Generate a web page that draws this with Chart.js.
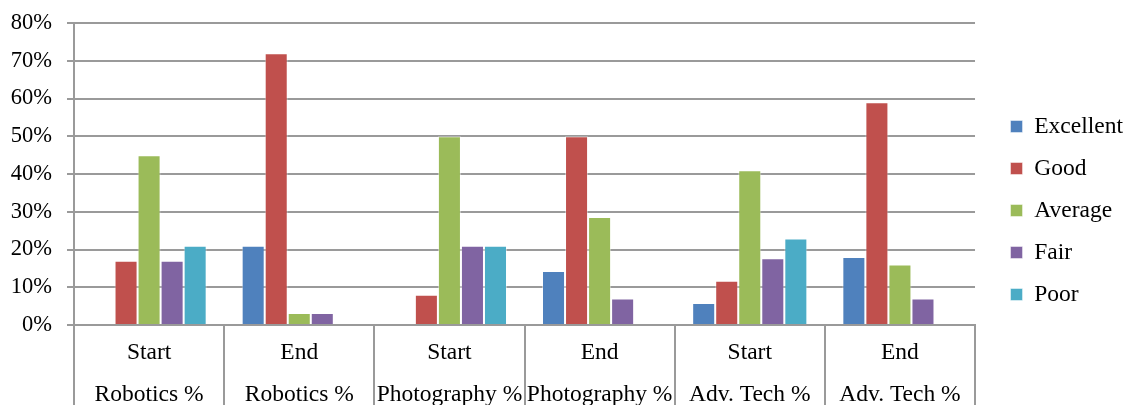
<!DOCTYPE html>
<html>
<head>
<meta charset="utf-8">
<script src="https://cdn.jsdelivr.net/npm/chart.js@4.4.1/dist/chart.umd.min.js"></script>
<style>
  html, body { margin: 0; padding: 0; background: #fff; overflow: hidden; }
  #wrap { position: relative; width: 1128px; height: 428px; }
</style>
</head>
<body>
<div id="wrap"><canvas id="chart"></canvas></div>
<script>
// Course ratings (%) at the start and end of each course
const categories = [
  ['Start', 'Robotics %'],
  ['End', 'Robotics %'],
  ['Start', 'Photography %'],
  ['End', 'Photography %'],
  ['Start', 'Adv. Tech %'],
  ['End', 'Adv. Tech %']
];
const excellent = [0, 21, 0, 14.3, 5.8, 18];
const good      = [17, 72, 8, 50, 11.7, 59];
const average   = [45, 3.2, 50, 28.6, 41, 16];
const fair      = [17, 3.2, 21, 7, 17.7, 7];
const poor      = [21, 0, 21, 0, 22.9, 0];

const yTicks = [0, 10, 20, 30, 40, 50, 60, 70, 80];

const seriesNames  = ['Excellent', 'Good', 'Average', 'Fair', 'Poor'];
const seriesColors = ['#4F81BD', '#C0504D', '#9BBB59', '#8064A2', '#4BACC6'];
const seriesData   = [excellent, good, average, fair, poor];

const serif = "'Liberation Serif', 'Times New Roman', serif";
const gridGrey = '#9a9a9a';

// Nudge the legend block away from the plot and up a little
const legendNudge = {
  id: 'legendNudge',
  afterLayout(chart) {
    const lg = chart.legend;
    if (!lg) return;
    lg.left += 17; lg.right += 17;
    lg.top -= 15; lg.bottom -= 15;
  }
};

new Chart(document.getElementById('chart'), {
  type: 'bar',
  data: {
    labels: categories,
    datasets: seriesNames.map((name, i) => ({
      label: name,
      data: seriesData[i],
      backgroundColor: seriesColors[i],
      borderColor: 'rgba(255,255,255,0.45)',
      borderWidth: 1,
      categoryPercentage: 0.767,
      barPercentage: 1.0
    }))
  },
  plugins: [legendNudge],
  options: {
    responsive: true,
    maintainAspectRatio: false,
    animation: false,
    devicePixelRatio: 1,
    layout: { padding: { top: 23, right: 12, left: 0, bottom: 0 } },
    plugins: {
      tooltip: { enabled: false },
      legend: {
        position: 'right',
        labels: {
          color: '#000',
          font: { family: serif, size: 23.5 },
          boxWidth: 12,
          boxHeight: 12,
          padding: 18.5
        }
      }
    },
    scales: {
      x: {
        offset: true,
        grid: {
          display: true,
          offset: true,
          drawOnChartArea: false,
          drawTicks: true,
          tickLength: 100,
          color: gridGrey,
          lineWidth: 2
        },
        border: { display: true, color: gridGrey, width: 2 },
        ticks: {
          color: '#000',
          font: { family: serif, size: 23.5, lineHeight: 42 / 23.5 },
          padding: -93,
          maxRotation: 0,
          autoSkip: false
        },
        afterFit: s => { s.height = 103; }
      },
      y: {
        min: 0,
        max: 80,
        afterBuildTicks: s => { s.ticks = yTicks.map(v => ({ value: v })); },
        grid: {
          color: gridGrey,
          lineWidth: 2,
          tickLength: 7
        },
        border: { display: true, color: gridGrey, width: 2 },
        ticks: {
          color: '#000',
          font: { family: serif, size: 22.5, lineHeight: 0.6 },
          padding: 15,
          callback: v => v + '%'
        },
        afterFit: s => { s.width = 74; }
      }
    }
  }
});
</script>
</body>
</html>
